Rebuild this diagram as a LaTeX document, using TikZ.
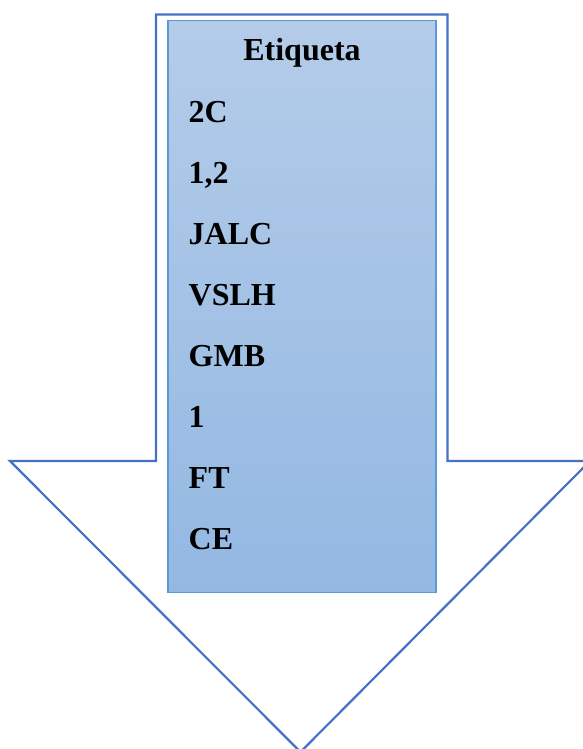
\documentclass[tikz,border=0pt]{standalone}
\usepackage{fontspec}
\setmainfont{Liberation Serif}
\begin{document}
\begin{tikzpicture}[x=1pt,y=-1pt,
  arrowline/.style={draw=arrowblue,line width=2.2pt,line join=miter},
  panel/.style={draw=panelborder,line width=1.3pt,top color=paneltop,bottom color=panelbottom},
  label/.style={font=\fontsize{32}{32}\selectfont\bfseries,anchor=base west,inner sep=0pt}]
\definecolor{arrowblue}{HTML}{4472C4}
\definecolor{panelborder}{HTML}{5B9BD5}
\definecolor{paneltop}{HTML}{B4CCE9}
\definecolor{panelbottom}{HTML}{93B8E2}
\useasboundingbox (0,0) rectangle (582,749);
% block arrow outline
\draw[arrowline] (156,14.5) -- (447.5,14.5) -- (447.5,461) -- (590,461)
  -- (300.5,752) -- (10,461) -- (156,461) -- cycle;
% shaded panel with labels
\path[panel] (168,20.5) rectangle (436,592.5);
\node[label,anchor=base] (title) at (302,61) {Etiqueta};
\node[label] (l1) at (188.5,122) {2C};
\node[label] (l2) at (188.5,183) {1,2};
\node[label] (l3) at (188.5,244) {JALC};
\node[label] (l4) at (188.5,305) {VSLH};
\node[label] (l5) at (188.5,366) {GMB};
\node[label] (l6) at (188.5,427) {1};
\node[label] (l7) at (188.5,488) {FT};
\node[label] (l8) at (188.5,549) {CE};
\end{tikzpicture}
\end{document}
